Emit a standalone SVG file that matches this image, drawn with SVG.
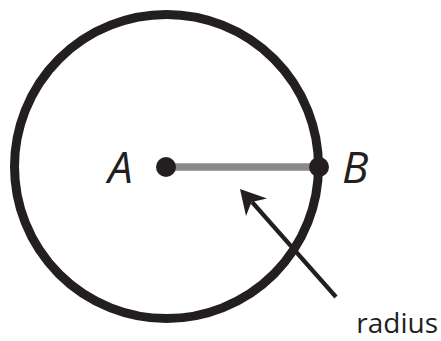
<svg xmlns="http://www.w3.org/2000/svg" width="441" height="341" viewBox="0 0 441 341">
<style>
.ink{fill:#231f20}
.lbl{font-family:"Open Sans","Liberation Sans",sans-serif;fill:#231f20}
.pt{font-style:italic;font-size:44px}
</style>
<rect width="441" height="341" fill="#fff"/>
<g id="circle"><circle cx="166.5" cy="166.5" r="152" fill="none" stroke="#231f20" stroke-width="9"/></g>
<g id="connectors">
<line id="radius-line" x1="166" y1="167" x2="319" y2="167" stroke="#8a8a8a" stroke-width="7.5"/>
<line x1="336" y1="297" x2="252" y2="202" stroke="#231f20" stroke-width="4.2"/>
<polygon class="ink" points="240,189 267,198.5 251.5,202 246,216"/>
</g>
<g id="A"><circle class="ink" cx="166" cy="167" r="10"/><text class="lbl pt" x="108" y="183">A</text></g>
<g id="B"><circle class="ink" cx="319" cy="167" r="10"/><text class="lbl pt" x="342" y="183">B</text></g>
<g id="radius"><text class="lbl" x="438" y="333" font-size="28" text-anchor="end">radius</text></g>
</svg>
